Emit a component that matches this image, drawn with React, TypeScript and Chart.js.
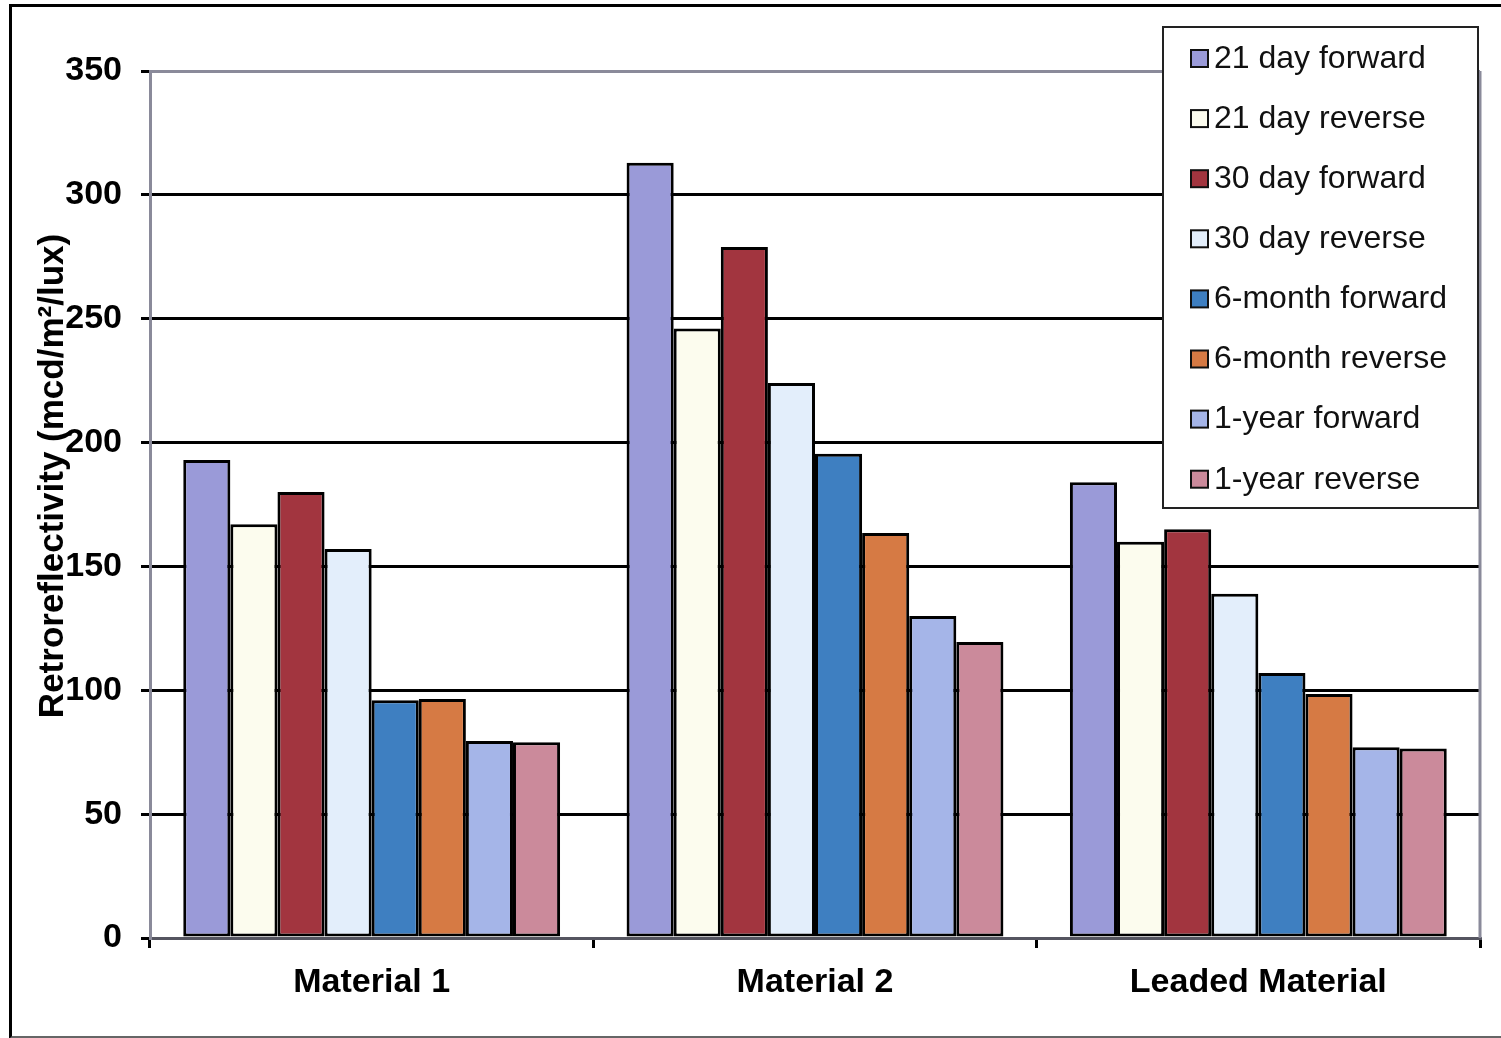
import React, { useEffect, useRef } from "react";
import { Chart, registerables } from "chart.js";

Chart.register(...registerables);

const categories = ["Material 1", "Material 2", "Leaded Material"];
const seriesNames = [
  "21 day forward",
  "21 day reverse",
  "30 day forward",
  "30 day reverse",
  "6-month forward",
  "6-month reverse",
  "1-year forward",
  "1-year reverse",
];
const day21Forward = [193, 313, 184];
const day21Reverse = [167, 246, 160];
const day30Forward = [180, 279, 165];
const day30Reverse = [157, 224, 139];
const month6Forward = [96, 195.5, 107];
const month6Reverse = [96.5, 163.5, 98.5];
const year1Forward = [79.5, 130, 77];
const year1Reverse = [79, 119.5, 76.5];
const seriesColors = [
  "#9A9AD8",
  "#FCFCEE",
  "#A2353F",
  "#E3EEFB",
  "#3E7FC1",
  "#D67A44",
  "#A5B5E8",
  "#CB8A9B",
];
const yTicks = [0, 50, 100, 150, 200, 250, 300, 350];
const yTitle = "Retroreflectivity (mcd/m²/lux)";

const FONT = "'Liberation Sans', Arial, sans-serif";

export default function App() {
  const ref = useRef<HTMLCanvasElement | null>(null);

  useEffect(() => {
    document.body.style.margin = "0";
    const canvas = ref.current;
    if (!canvas) return;
    const values = [
      day21Forward,
      day21Reverse,
      day30Forward,
      day30Reverse,
      month6Forward,
      month6Reverse,
      year1Forward,
      year1Reverse,
    ];

    const overlay = {
      id: "overlay",
      afterDraw(chart: any) {
        const ctx = chart.ctx;
        const ca = chart.chartArea;
        ctx.save();
        // right border of plot area
        ctx.strokeStyle = "#8a8a9a";
        ctx.lineWidth = 3;
        ctx.beginPath();
        ctx.moveTo(ca.right, ca.top);
        ctx.lineTo(ca.right, ca.bottom);
        ctx.stroke();

        // y-axis title
        ctx.save();
        ctx.translate(53, 476);
        ctx.rotate(-Math.PI / 2);
        ctx.fillStyle = "#000";
        ctx.font = `bold 35px ${FONT}`;
        ctx.textAlign = "center";
        ctx.textBaseline = "middle";
        ctx.fillText(yTitle, 0, 0);
        ctx.restore();

        // legend
        const lx = 1163;
        const ly = 27;
        const lw = 315;
        const lh = 481;
        ctx.fillStyle = "#fff";
        ctx.fillRect(lx, ly, lw, lh);
        ctx.strokeStyle = "#222";
        ctx.lineWidth = 2;
        ctx.strokeRect(lx, ly, lw, lh);
        ctx.font = `32px ${FONT}`;
        ctx.textBaseline = "middle";
        ctx.textAlign = "left";
        chart.data.datasets.forEach((ds: any, i: number) => {
          const cy = ly + 31 + i * 60.1;
          ctx.fillStyle = ds.backgroundColor;
          ctx.fillRect(lx + 28, cy - 8, 17, 17);
          ctx.strokeStyle = "#111";
          ctx.lineWidth = 2;
          ctx.strokeRect(lx + 28, cy - 8, 17, 17);
          ctx.fillStyle = "#111";
          ctx.fillText(ds.label, lx + 51, cy + 1);
        });
        ctx.restore();
      },
    };

    const chart = new Chart(canvas, {
      type: "bar",
      data: {
        labels: categories,
        datasets: seriesNames.map((name, i) => ({
          label: name,
          data: values[i],
          backgroundColor: seriesColors[i],
          borderColor: "#000",
          borderWidth: 3,
          borderSkipped: false,
          barPercentage: 1,
          categoryPercentage: 0.85,
        })),
      },
      options: {
        responsive: false,
        animation: false,
        devicePixelRatio: 1,
        layout: { padding: { left: 0, right: 21, top: 71, bottom: 0 } },
        plugins: {
          legend: { display: false },
          title: { display: false },
          tooltip: { enabled: false },
        },
        scales: {
          x: {
            afterFit: (s: any) => {
              s.height = 100;
            },
            grid: {
              offset: true,
              drawOnChartArea: false,
              drawTicks: true,
              tickLength: 10,
              color: "#000",
              lineWidth: 3,
            },
            border: { color: "#555560", width: 3 },
            ticks: {
              color: "#000",
              font: { family: FONT, size: 34, weight: "bold" },
              padding: 14,
            },
          },
          y: {
            min: 0,
            max: 350,
            afterFit: (s: any) => {
              s.width = 150;
            },
            afterBuildTicks: (s: any) => {
              s.ticks = yTicks.map((v) => ({ value: v }));
            },
            grid: {
              color: (c: any) =>
                c.tick && c.tick.value === 350 ? "#8a8a9a" : "#000",
              tickColor: "#000",
              lineWidth: 3,
              drawTicks: true,
              tickLength: 9,
            },
            border: { color: "#8a8a9a", width: 3 },
            ticks: {
              color: "#000",
              font: { family: FONT, size: 34, weight: "bold" },
              padding: 19,
              callback: (v: any) => String(v),
            },
          },
        },
      },
      plugins: [overlay],
    });
    return () => chart.destroy();
  }, []);

  return (
    <div
      style={{
        position: "relative",
        width: 1501,
        height: 1038,
        overflow: "hidden",
        background: "#fff",
      }}
    >
      <canvas ref={ref} width={1501} height={1038} style={{ display: "block" }} />
      <div
        style={{
          position: "absolute",
          left: 9,
          top: 4,
          width: 1500,
          height: 1029,
          borderLeft: "3px solid #000",
          borderTop: "3px solid #000",
          borderBottom: "3px solid #666",
          pointerEvents: "none",
        }}
      />
    </div>
  );
}
